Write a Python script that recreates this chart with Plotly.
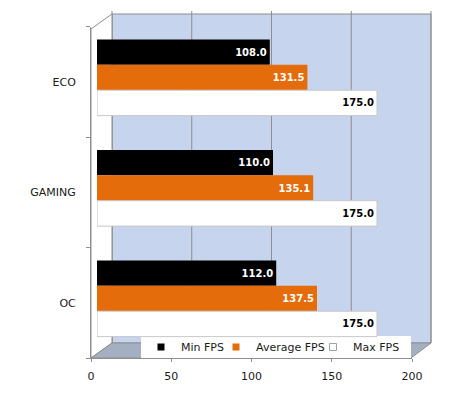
import plotly.graph_objects as go

# ---------------- data ----------------
categories = ["ECO", "GAMING", "OC"]
series_names = ["Min FPS", "Average FPS", "Max FPS"]
min_fps = [108.0, 110.0, 112.0]
avg_fps = [131.5, 135.1, 137.5]
max_fps = [175.0, 175.0, 175.0]
x_ticks = [0, 50, 100, 150, 200]

# ---------------- styling ----------------
OFF = 8                      # page body margin
FW, FH = 450 - OFF, 395 - OFF
FONT = "Verdana, DejaVu Sans, sans-serif"
bar_colors = ["#000000", "#E46C0A", "#FFFFFF"]
bar_lines = ["#000000", "#C9600A", "#C8C8C8"]
text_colors = ["#FFFFFF", "#FFFFFF", "#000000"]
legend_widths = [30, 52, 46]
GRID = "#8E8E8E"


def px(x):
    return (x - OFF) / FW


def py(y):
    return 1 - (y - OFF) / FH


fig = go.Figure()

for name, vals, col, lcol, tcol in zip(series_names, [min_fps, avg_fps, max_fps],
                                       bar_colors, bar_lines, text_colors):
    fig.add_trace(go.Bar(
        y=categories, x=vals, orientation="h", name=name,
        marker=dict(color=col, line=dict(width=1 if col == "#FFFFFF" else 0, color=lcol)),
        text=[f"{v:.1f}" for v in vals],
        textposition="inside", insidetextanchor="end",
        textfont=dict(family=FONT, size=10, color=tcol, weight="bold"),
        showlegend=False, hoverinfo="skip",
        xaxis="x", yaxis="y",
    ))

# legend entries (front plane axes)
for name, col, lw in zip(series_names, bar_colors, legend_widths):
    fig.add_trace(go.Scatter(
        x=[None], y=[None], mode="markers", name=name,
        marker=dict(symbol="square", size=7, color=col,
                    line=dict(color="#A0A0A0", width=1 if col == "#FFFFFF" else 0)),
        legendwidth=lw, xaxis="x2", yaxis="y2", hoverinfo="skip",
    ))

# ---------------- 3D frame decorations ----------------
shapes = []
BX0, BX1, BY0, BY1 = 112, 431, 14, 343      # back wall
FX0, FX1, FY0, FY1 = 91, 411, 29, 358       # front plane

shapes.append(dict(type="rect", xref="paper", yref="paper",
                   x0=px(BX0), x1=px(BX1), y0=py(BY1), y1=py(BY0),
                   fillcolor="#C6D4EE", line=dict(color=GRID, width=1), layer="below"))
for v in x_ticks:
    xx = BX0 + v * (BX1 - BX0) / (x_ticks[-1] - x_ticks[0])
    shapes.append(dict(type="line", xref="paper", yref="paper",
                       x0=px(xx), x1=px(xx), y0=py(BY1), y1=py(BY0 - 3),
                       line=dict(color=GRID, width=1), layer="below"))


def poly(points):
    return "M " + " L ".join(f"{px(a):.5f},{py(b):.5f}" for a, b in points) + " Z"


# left side wall
shapes.append(dict(type="path", xref="paper", yref="paper",
                   path=poly([(FX0, FY0), (BX0, BY0), (BX0, BY1), (FX0, FY1)]),
                   fillcolor="#FFFFFF", line=dict(color=GRID, width=1), layer="below"))
# floor
shapes.append(dict(type="path", xref="paper", yref="paper",
                   path=poly([(FX0, FY1), (BX0, BY1), (BX1, BY1), (FX1, FY1)]),
                   fillcolor="#A5AFC2", line=dict(color=GRID, width=1), layer="below"))
# legend box
shapes.append(dict(type="rect", xref="paper", yref="paper",
                   x0=px(141), x1=px(411), y0=py(358), y1=py(336),
                   fillcolor="#FFFFFF", line=dict(width=0), layer="below"))

fig.update_layout(
    width=FW, height=FH,
    margin=dict(l=0, r=0, t=0, b=0, autoexpand=False),
    paper_bgcolor="#FFFFFF", plot_bgcolor="rgba(0,0,0,0)",
    barmode="group", bargap=0.31, bargroupgap=0,
    font=dict(family=FONT, size=11, color="#1A1A1A"),
    shapes=shapes,
    xaxis=dict(domain=[px(97), px(417)], range=[0, 200], visible=False,
               anchor="y", fixedrange=True),
    yaxis=dict(domain=[py(353.75), py(22.25)], type="category", range=[2.5, -0.5],
               visible=False, anchor="x", fixedrange=True),
    xaxis2=dict(domain=[px(FX0), px(412)], range=[0, 200], anchor="y2",
                tickvals=x_ticks, ticks="outside", ticklen=3, tickcolor=GRID,
                showline=True, linecolor=GRID, showgrid=False, zeroline=False,
                ticklabelstandoff=5, tickfont=dict(size=11), automargin=False),
    yaxis2=dict(domain=[py(358.25), py(26.75)], range=[2.5, -0.5], anchor="x2",
                tickvals=[0, 1, 2], ticktext=categories, ticks="",
                showline=True, linecolor=GRID, showgrid=False, zeroline=False,
                minor=dict(tickvals=[-0.5, 0.5, 1.5, 2.5], ticks="outside", ticklen=4,
                           tickcolor=GRID, showgrid=False),
                ticklabelstandoff=12, tickfont=dict(size=11), automargin=False),
    legend=dict(orientation="h", x=px(141), xanchor="left", y=py(347), yanchor="middle",
                bgcolor="rgba(0,0,0,0)", borderwidth=0, font=dict(size=11),
                itemwidth=30),
)

fig.write_html("out.html")
